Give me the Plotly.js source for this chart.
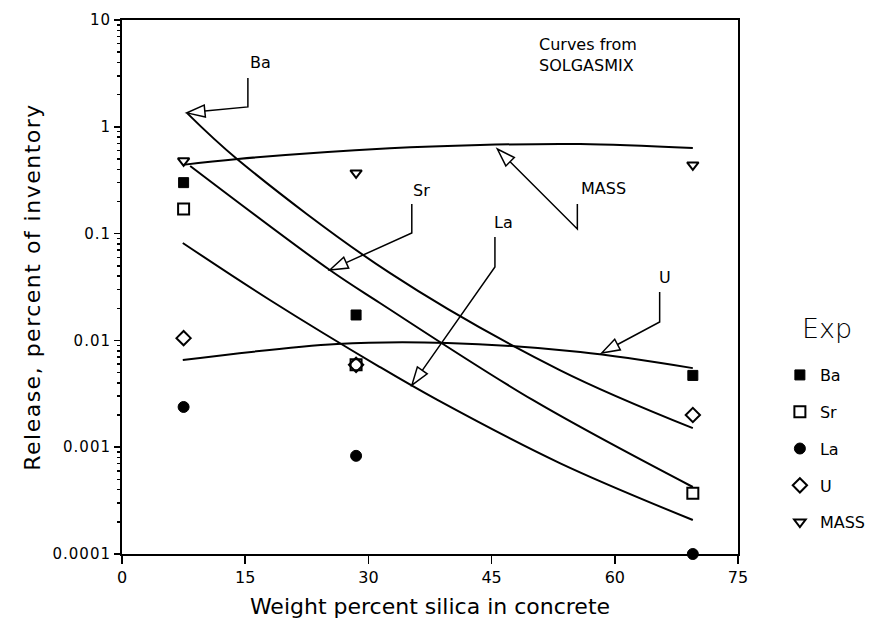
<!DOCTYPE html>
<html>
<head>
<meta charset="utf-8">
<script src="https://cdn.plot.ly/plotly-3.0.1.min.js"></script>
<style>
  html, body { margin: 0; padding: 0; background: #fff; }
  #chart { width: 873px; height: 630px; }
  #chart .ytitle { letter-spacing: 1.5px; }
  #chart .ytick text { letter-spacing: 1px; }
</style>
</head>
<body>
<div id="chart"></div>
<script>
// SOLGASMIX model curves (weight % silica -> release, % of inventory)
const baCurveX = [7.9, 14.0, 32.6, 53.3, 69.5];
const baCurveY = [1.35, 0.50, 0.0428, 0.00528, 0.00151];
const srCurveX = [8.3, 25.3, 31.4, 50.0, 69.5];
const srCurveY = [0.43, 0.0456, 0.0224, 0.00277, 0.000424];
const laCurveX = [7.4, 18.0, 31.4, 38.4, 53.3, 69.5];
const laCurveY = [0.0817, 0.0239, 0.00563, 0.00277, 0.00071, 0.000208];
const uCurveX = [7.4, 26.2, 39.6, 55.8, 69.5];
const uCurveY = [0.00655, 0.00925, 0.00946, 0.00778, 0.0055];
const massCurveX = [7.4, 14.1, 32.6, 43.6, 55.8, 69.5];
const massCurveY = [0.44, 0.50, 0.63, 0.676, 0.69, 0.633];

// Experimental release measurements
const expX = [7.5, 28.5, 69.5];
const expBa = [0.30, 0.0173, 0.0047];
const expSr = [0.17, 0.0059, 0.00037];
const expLa = [0.00238, 0.00083, 0.0001];
const expU = [0.0105, 0.0059, 0.002];
const expMass = [0.48, 0.37, 0.44];

// Axis ticks
const xTicks = [0, 15, 30, 45, 60, 75];
const yTickVals = [0.0001, 0.001, 0.01, 0.1, 1, 10];
const yTickText = ["0.0001", "0.001", "0.01", "0.1", "1", "10"];

// Curve labels: name, arrow tip on its curve, leader path (px offsets from tip, y down), label offset
const leaderNames = ["Ba", "Sr", "La", "MASS", "U"];
const leaderTipX = [7.9, 25.3, 35.3, 45.7, 58.4];
const leaderTipY = [1.35, 0.0456, 0.00382, 0.62, 0.00762];
const leaderPaths = [
  [[61, -6], [61, -35]],
  [[82, -37], [82, -66]],
  [[83, -118], [83, -148]],
  [[80, 80], [80, 55]],
  [[58, -31], [58, -61]]
];
const leaderLabelOffset = [[74, -50], [92, -80], [92, -163], [106, 40], [63, -76]];

const FONT = "DejaVu Sans, Verdana, sans-serif";

function curve(x, y) {
  return {
    x: x, y: y, type: "scatter", mode: "lines",
    line: { color: "#000", width: 2, shape: "spline", smoothing: 1 },
    showlegend: false, hoverinfo: "skip"
  };
}

function points(name, y, symbol, size, lw) {
  return {
    x: expX, y: y, type: "scatter", mode: "markers", name: name,
    legendgroup: name, cliponaxis: false,
    marker: { symbol: symbol, size: size, color: "#000", line: { color: "#000", width: lw } }
  };
}

const traces = [
  curve(baCurveX, baCurveY),
  curve(srCurveX, srCurveY),
  curve(laCurveX, laCurveY),
  curve(uCurveX, uCurveY),
  curve(massCurveX, massCurveY),
  points("Ba", expBa, "square", 10, 1),
  points("Sr", expSr, "square-open", 11, 2),
  points("La", expLa, "circle", 11, 1),
  points("U", expU, "diamond-open", 11, 2),
  points("MASS", expMass, "triangle-down-open", 10, 2)
];

// Leader lines with hollow arrowheads, drawn as pixel-sized shapes anchored at the tip
const shapes = [];
const annotations = [];
leaderNames.forEach(function (name, i) {
  const pts = leaderPaths[i];
  const dx = pts[0][0], dy = pts[0][1];
  const len = Math.sqrt(dx * dx + dy * dy);
  const ux = dx / len, uy = dy / len;
  const L = 18, W = 6;
  const bx = ux * L, by = uy * L;
  const px = -uy * W, py = ux * W;
  const f = function (v) { return v.toFixed(2); };
  const head = "M0,0 L" + f(bx + px) + "," + f(-(by + py)) +
               " L" + f(bx - px) + "," + f(-(by - py)) + " Z";
  let tail = "M" + f(bx) + "," + f(-by);
  pts.forEach(function (p) { tail += " L" + f(p[0]) + "," + f(-p[1]); });
  const base = {
    type: "path", xref: "x", yref: "y", xsizemode: "pixel", ysizemode: "pixel",
    xanchor: leaderTipX[i], yanchor: leaderTipY[i], layer: "above"
  };
  shapes.push(Object.assign({}, base, {
    path: tail, line: { color: "#000", width: 1.5 }, fillcolor: "rgba(0,0,0,0)"
  }));
  shapes.push(Object.assign({}, base, {
    path: head, line: { color: "#000", width: 1.5 }, fillcolor: "#fff"
  }));
  annotations.push({
    x: leaderTipX[i], y: Math.log10(leaderTipY[i]), xref: "x", yref: "y",
    xshift: leaderLabelOffset[i][0], yshift: -leaderLabelOffset[i][1],
    text: name, showarrow: false, xanchor: "center", yanchor: "middle",
    font: { family: FONT, size: 16, color: "#000" }
  });
});

annotations.push({
  x: 0.674, y: 0.975, xref: "paper", yref: "paper",
  xanchor: "left", yanchor: "top", align: "left", showarrow: false,
  text: "Curves from<br>SOLGASMIX",
  font: { family: FONT, size: 16, color: "#000" }
});

// Heading over the legend of experimental points
annotations.push({
  x: 1.1, y: 0.423, xref: "paper", yref: "paper",
  xanchor: "left", yanchor: "middle", showarrow: false,
  text: "Exp",
  font: { family: FONT, size: 27, weight: 300, color: "#000" }
});

const minorVals = [];
for (let e = -4; e < 1; e++) {
  for (let m = 2; m <= 9; m++) minorVals.push(m * Math.pow(10, e));
}

const layout = {
  width: 873, height: 630,
  margin: { l: 122, r: 135, t: 20, b: 76, autoexpand: false },
  paper_bgcolor: "#fff", plot_bgcolor: "#fff",
  font: { family: FONT, color: "#000" },
  xaxis: {
    range: [0, 75], tickmode: "array", tickvals: xTicks,
    ticks: "outside", ticklen: 8, tickwidth: 1.5, tickcolor: "#000",
    showline: true, linewidth: 2, linecolor: "#000", mirror: true,
    showgrid: false, zeroline: false,
    tickfont: { family: FONT, size: 16 },
    title: { text: "Weight percent silica in concrete", font: { family: FONT, size: 22 }, standoff: 12 }
  },
  yaxis: {
    type: "log", range: [-4, 1], tickmode: "array",
    tickvals: yTickVals, ticktext: yTickText,
    ticks: "outside", ticklen: 6, tickwidth: 1.5, tickcolor: "#000",
    minor: { tickmode: "array", tickvals: minorVals, ticks: "outside", ticklen: 3, tickcolor: "#000", showgrid: false },
    showline: true, linewidth: 2, linecolor: "#000", mirror: true,
    showgrid: false, zeroline: false,
    tickfont: { family: FONT, size: 15 },
    title: { text: "Release, percent of inventory", font: { family: FONT, size: 22 }, standoff: 12 }
  },
  legend: {
    x: 1.068, y: 0.367, xanchor: "left", yanchor: "top",
    traceorder: "grouped", tracegroupgap: 13,
    font: { family: FONT, size: 16 },
    bgcolor: "rgba(0,0,0,0)"
  },
  showlegend: true,
  shapes: shapes,
  annotations: annotations
};

Plotly.newPlot("chart", traces, layout, { displayModeBar: false, staticPlot: true });
</script>
</body>
</html>
